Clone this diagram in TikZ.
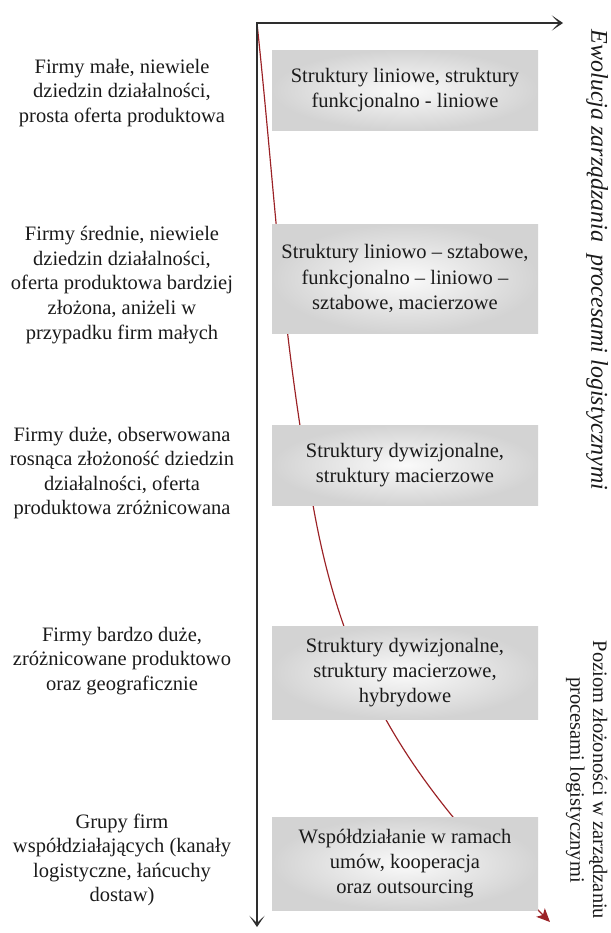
\documentclass[tikz,border=0pt]{standalone}
\usepackage{fontspec}
\setmainfont{Liberation Serif}
\usetikzlibrary{positioning, arrows.meta}
\definecolor{Ink}{HTML}{1A1A1A}
\definecolor{AxisGray}{HTML}{2E2E2E}
\definecolor{Trend}{HTML}{9B2226}
\definecolor{BoxLight}{HTML}{FAFAFA}
\definecolor{BoxGray}{HTML}{D3D3D3}
\tikzset{
    firmnode/.style={align=center, text=Ink, font=\fontsize{17.5}{21}\selectfont},
    structnode/.style={rectangle, inner color=BoxLight, outer color=BoxGray, text=Ink, align=center, minimum width=7.98cm, font=\fontsize{17.5}{21.5}\selectfont},
    axisarrow/.style={>={Stealth[length=3.4mm, width=4.6mm, inset=2.2mm]}, <->, line width=1.6pt, color=AxisGray},
    trendarrow/.style={-{Stealth[length=4mm, width=3.6mm, inset=1mm]}, line width=1pt, color=Trend},
    sidelabel/.style={rotate=-90, align=center, text=Ink},
}

\begin{document}
\begin{tikzpicture}
    \useasboundingbox (0,0) rectangle (18.33,-27.99);
    % Osie i krzywa
    \coordinate (origin) at (7.71,-0.69);
    \coordinate (xend) at (16.89,-0.69);
    \coordinate (yend) at (7.71,-27.81);
    \coordinate (bend) at (9.39,-15.15);
    \coordinate (tend) at (16.5,-27.66);
    \draw[trendarrow] (origin) to[out=-84, in=100] (bend) to[out=-80, in=135] (tend);
    \draw[axisarrow] (xend) -- (origin) -- (yend);

    % Struktury
    \node[structnode, minimum height=2.4cm] (s1) at (12.15,-2.7) {Struktury liniowe, struktury\\funkcjonalno - liniowe};
    \node[structnode, minimum height=3.27cm] (s2) at (12.15,-8.355) {Struktury liniowo – sztabowe,\\funkcjonalno – liniowo –\\sztabowe, macierzowe};
    \node[structnode, minimum height=2.4cm] (s3) at (12.15,-13.95) {Struktury dywizjonalne,\\struktury macierzowe};
    \node[structnode, minimum height=2.79cm] (s4) at (12.15,-20.175) {Struktury dywizjonalne,\\struktury macierzowe,\\hybrydowe};
    \node[structnode, minimum height=2.79cm] (s5) at (12.15,-25.905) {Współdziałanie w ramach\\umów, kooperacja\\oraz outsourcing};

    % Firmy
    \node[firmnode] (f1) at (3.66,-2.79) {Firmy małe, niewiele\\dziedzin działalności,\\prosta oferta produktowa};
    \node[firmnode] (f2) at (3.66,-8.55) {Firmy średnie, niewiele\\dziedzin działalności,\\oferta produktowa bardziej\\złożona, aniżeli w\\przypadku firm małych};
    \node[firmnode] (f3) at (3.66,-14.19) {Firmy duże, obserwowana\\rosnąca złożoność dziedzin\\działalności, oferta\\produktowa zróżnicowana};
    \node[firmnode] (f4) at (3.66,-19.83) {Firmy bardzo duże,\\zróżnicowane produktowo\\oraz geograficznie};
    \node[firmnode] (f5) at (3.66,-25.8) {Grupy firm\\współdziałających (kanały\\logistyczne, łańcuchy\\dostaw)};

    % Opisy osi
    \node[sidelabel, font=\itshape\fontsize{20.5}{24}\selectfont] (evo) at (17.91,-7.8) {Ewolucja zarządzania~ procesami logistycznymi};
    \node[sidelabel, font=\fontsize{17.5}{19.5}\selectfont] (lvl) at (17.6,-23.4) {Poziom złożoności w zarządzaniu\\procesami logistycznymi};
\end{tikzpicture}
\end{document}
